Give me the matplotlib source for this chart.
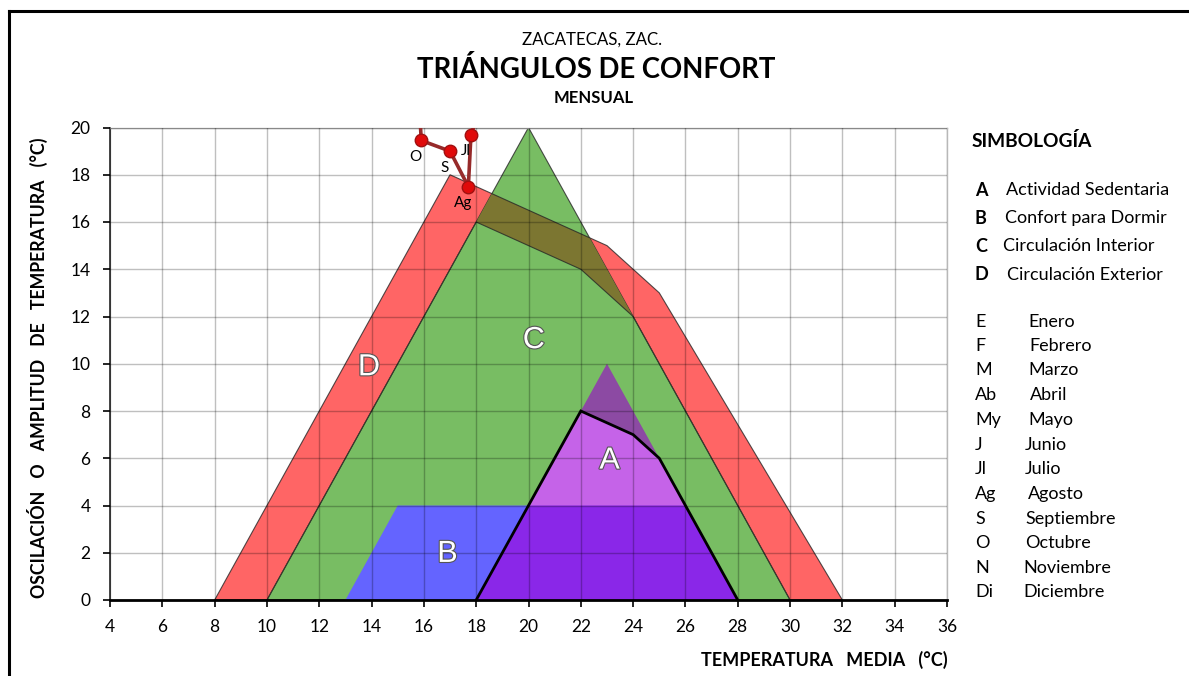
import matplotlib
matplotlib.use("Agg")
import matplotlib.pyplot as plt
from matplotlib.patches import Polygon
from matplotlib.lines import Line2D
import matplotlib.patheffects as pe

plt.rcParams['font.family'] = ['Lato', 'DejaVu Sans']

# Comfort zones: (temperatura media °C, oscilación °C)
zone_d_x = [8, 17, 23, 25, 32, 30, 24, 22, 18, 10]
zone_d_y = [0, 18, 15, 13, 0, 0, 12, 14, 16, 0]
zone_c_x = [10, 20, 30]
zone_c_y = [0, 20, 0]
zone_b_x = [13, 15, 26, 28]
zone_b_y = [0, 4, 4, 0]
zone_a_x = [18, 22, 24, 25, 28]
zone_a_y = [0, 8, 7, 6, 0]
zone_a_peak_x = [18, 23, 28]
zone_a_peak_y = [0, 10, 0]

zone_letters = ["A", "B", "C", "D"]
zone_letter_x = [23.1, 16.9, 20.2, 13.9]
zone_letter_y = [5.9, 1.95, 11.0, 9.85]
zone_names = ["Actividad Sedentaria", "Confort para Dormir",
              "Circulación Interior", "Circulación Exterior"]

# Monthly climate points
months = ["E", "F", "M", "Ab", "My", "J", "Jl", "Ag", "S", "O", "N", "Di"]
month_names = ["Enero", "Febrero", "Marzo", "Abril", "Mayo", "Junio", "Julio",
               "Agosto", "Septiembre", "Octubre", "Noviembre", "Diciembre"]
temp_media = [13.0, 14.3, 16.4, 18.3, 19.6, 18.9, 17.8, 17.7, 17.0, 15.9, 15.7, 14.0]
oscilacion = [25.0, 26.0, 26.5, 26.0, 25.0, 23.1, 19.7, 17.5, 19.0, 19.45, 23.5, 24.5]

x_ticks = list(range(4, 37, 2))
y_ticks = list(range(0, 21, 2))

W, H = 1189, 676
fig = plt.figure(figsize=(W / 100, H / 100), dpi=100)
ax = fig.add_axes([110 / W, 1 - 600 / H, (947 - 110) / W, (600 - 127.5) / H])

edge = (0.15, 0.15, 0.15, 0.8)

# D: exterior circulation band
d_patch = Polygon(list(zip(zone_d_x, zone_d_y)), closed=True,
                  facecolor='#ff6565', edgecolor=edge, lw=0.8, zorder=1)
ax.add_patch(d_patch)

# C: interior circulation triangle
c_patch = Polygon(list(zip(zone_c_x, zone_c_y)), closed=True,
                  facecolor='#78bd63', edgecolor=edge, lw=0.8, zorder=1.1)
ax.add_patch(c_patch)

# overlap of D and C
dc = Polygon(list(zip(zone_d_x, zone_d_y)), closed=True,
             facecolor='#7c7631', edgecolor=edge, lw=0.8, zorder=1.2)
ax.add_patch(dc)
dc.set_clip_path(c_patch)

# peak of the sedentary-activity triangle
peak = Polygon(list(zip(zone_a_peak_x, zone_a_peak_y)), closed=True,
               facecolor='#8c4aa3', edgecolor='none', zorder=1.3)
ax.add_patch(peak)

# B: sleeping comfort
b_patch = Polygon(list(zip(zone_b_x, zone_b_y)), closed=True,
                  facecolor='#6464ff', edgecolor='none', zorder=1.4)
ax.add_patch(b_patch)

# A: sedentary activity
a_patch = Polygon(list(zip(zone_a_x, zone_a_y)), closed=True,
                  facecolor='#c563e8', edgecolor='none', zorder=1.5)
ax.add_patch(a_patch)
ab = Polygon(list(zip(zone_b_x, zone_b_y)), closed=True,
             facecolor='#8a27e8', edgecolor='none', zorder=1.6)
ax.add_patch(ab)
ab.set_clip_path(a_patch)

ax.plot(zone_a_x, zone_a_y, color='black', lw=2, zorder=2.8,
        solid_joinstyle='miter', clip_on=False)

# monthly points
ax.plot(temp_media, oscilacion, color='#962a2a', lw=2.6, zorder=5,
        marker='o', ms=9, mfc='#e00a0a', mec='#a01010', mew=1)
for m, xv, yv in zip(months, temp_media, oscilacion):
    ax.annotate(m, (xv, yv), xytext=(-4, -12), textcoords='offset points',
                ha='center', va='center', fontsize=11, zorder=6)

# big zone letters
for lt, xv, yv in zip(zone_letters, zone_letter_x, zone_letter_y):
    ax.text(xv, yv, lt, ha='center', va='center', fontsize=22, color='white',
            family='Liberation Sans', zorder=6,
            path_effects=[pe.withStroke(linewidth=1.6, foreground='#555555')])

ax.set_xlim(4, 36)
ax.set_ylim(0, 20)
ax.set_xticks(x_ticks)
ax.set_yticks(y_ticks)
ax.set_axisbelow(False)
ax.grid(True, color='black', alpha=0.25, lw=1)
ax.tick_params(axis='both', direction='out', length=5, width=1.2,
               labelsize=12.5, color='black')
ax.tick_params(axis='x', pad=9)
ax.tick_params(axis='y', pad=9)
for s in ('top', 'right'):
    ax.spines[s].set_color('#b8b8b8')
    ax.spines[s].set_linewidth(1)
ax.spines['left'].set_color('#222222')
ax.spines['left'].set_linewidth(1.2)
ax.spines['bottom'].set_color('black')
ax.spines['bottom'].set_linewidth(2)

# titles
fig.text(592 / W, 1 - 40 / H, "ZACATECAS, ZAC.", ha='center', va='center',
         fontsize=12.2)
fig.text(596 / W, 1 - 69 / H, "TRIÁNGULOS DE CONFORT", ha='center', va='center',
         fontsize=19.8, fontweight='bold')
fig.text(594 / W, 1 - 98 / H, "MENSUAL", ha='center', va='center',
         fontsize=12, fontweight='bold')

fig.text(948 / W, 1 - 660 / H, "TEMPERATURA   MEDIA   (°C)", ha='right', va='center',
         fontsize=13, fontweight='bold')
fig.text(37 / W, 1 - 368 / H, "OSCILACIÓN   O   AMPLITUD   DE   TEMPERATURA   (°C)",
         ha='center', va='center', rotation=90, fontsize=12.8, fontweight='bold')

# legend / simbología
fig.text(972 / W, 1 - 141 / H, "SIMBOLOGÍA", ha='left', va='center',
         fontsize=13.8, fontweight='bold')
zone_y = [190, 218, 246, 275]
zone_tx = [1006, 1005, 1003, 1007]
for lt, nm, yp, xp in zip(zone_letters, zone_names, zone_y, zone_tx):
    fig.text(975 / W, 1 - yp / H, lt, ha='left', va='center', fontsize=13, fontweight='bold')
    fig.text(xp / W, 1 - yp / H, nm, ha='left', va='center', fontsize=13)

month_y = [322, 346, 370, 395, 420, 445, 469, 494, 519, 543, 568, 592]
month_tx = [1028, 1029, 1028, 1030, 1028, 1025, 1025, 1028, 1025, 1025, 1023, 1023]
for m, nm, yp, xp in zip(months, month_names, month_y, month_tx):
    fig.text(975 / W, 1 - yp / H, m, ha='left', va='center', fontsize=13)
    fig.text(xp / W, 1 - yp / H, nm, ha='left', va='center', fontsize=13)

# outer frame
fy = 1 - 11 / H
fx = 9 / W
fig.add_artist(Line2D([fx, 1.01], [fy, fy], color='black', lw=2.2, transform=fig.transFigure))
fig.add_artist(Line2D([fx, fx], [-0.01, fy], color='black', lw=2.2, transform=fig.transFigure))

fig.savefig("out.png", dpi=100)
